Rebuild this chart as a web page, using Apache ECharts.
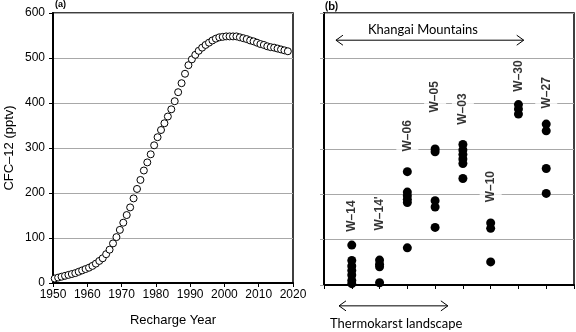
<!DOCTYPE html>
<html>
<head>
<meta charset="utf-8">
<script src="https://cdn.jsdelivr.net/npm/echarts@6/dist/echarts.min.js"></script>
<style>
html, body { margin: 0; padding: 0; background: #fff; }
#chart { width: 576px; height: 332px; }
</style>
</head>
<body>
<div id="chart"></div>
<script>
// (a) CFC-12 in air by recharge year
var years = [1950, 1951, 1952, 1953, 1954, 1955, 1956, 1957, 1958, 1959,
  1960, 1961, 1962, 1963, 1964, 1965, 1966, 1967, 1968, 1969,
  1970, 1971, 1972, 1973, 1974, 1975, 1976, 1977, 1978, 1979,
  1980, 1981, 1982, 1983, 1984, 1985, 1986, 1987, 1988, 1989,
  1990, 1991, 1992, 1993, 1994, 1995, 1996, 1997, 1998, 1999,
  2000, 2001, 2002, 2003, 2004, 2005, 2006, 2007, 2008, 2009,
  2010, 2011, 2012, 2013, 2014, 2015, 2016, 2017, 2018]
var cfcAir = [10, 12, 14, 16, 18, 20, 22, 25, 28, 31,
  34, 38, 43, 49, 55, 64, 74, 88, 102, 118,
  134, 151, 168, 188, 209, 229, 250, 268, 286, 306,
  324, 340, 355, 370, 386, 404, 424, 444, 465, 484,
  497, 507, 516, 523, 529, 534, 539, 543, 546, 547,
  548, 548, 548, 548, 546, 544, 542, 539, 537, 534,
  531, 529, 526, 524, 523, 521, 519, 517, 515]
var yTicks = [0, 100, 200, 300, 400, 500, 600]

// (b) CFC-12 in groundwater, per well
var wells = ['W\u201314', 'W\u201314\'', 'W\u201306', 'W\u201305', 'W\u201303', 'W\u201310', 'W\u201330', 'W\u201327']
var wellCfc = [
  [88, 54, 42, 32, 22, 10, 3],
  [55, 46, 40, 5],
  [250, 205, 197, 189, 182, 82],
  [300, 294, 186, 172, 127],
  [310, 298, 288, 278, 268, 235],
  [137, 125, 51],
  [398, 388, 377],
  [355, 340, 257, 202]
]
var wellLabelY = [152, 158, 329, 415, 388, 217, 461, 424]

var chart = echarts.init(document.getElementById('chart'))

var airData = years.map(function (y, i) { return [y + 0.5, cfcAir[i]] })
var wellData = []
wellCfc.forEach(function (vals, i) {
  vals.forEach(function (v) { wellData.push([i + 1, v]) })
})
var labelData = wells.map(function (w, i) {
  return { name: w, value: [i + 1, wellLabelY[i]] }
})

var font = 'Liberation Sans, Arial, sans-serif'
var gridColor = '#a8a8a8'

var option = {
  animation: false,
  textStyle: { fontFamily: font, color: '#000' },
  grid: [
    { left: 53, top: 13, width: 240, height: 272, show: true, borderColor: '#000', borderWidth: 1.5 },
    { left: 324, top: 13, width: 250, height: 272, show: true, borderColor: '#000', borderWidth: 1.5 }
  ],
  xAxis: [
    {
      gridIndex: 0, type: 'value', min: 1950, max: 2020, interval: 10,
      axisLine: { lineStyle: { color: '#000', width: 2 } },
      axisTick: { length: 4, lineStyle: { color: '#000' } },
      axisLabel: { fontSize: 12, color: '#000', margin: 6, formatter: function (v) { return String(v) } },
      splitLine: { show: false },
      name: 'Recharge Year', nameLocation: 'middle', nameGap: 31,
      nameTextStyle: { fontSize: 13, color: '#000' }
    },
    {
      gridIndex: 1, type: 'value', min: 0, max: 9, interval: 1,
      axisLine: { lineStyle: { color: '#000', width: 2 } },
      axisTick: { length: 4, lineStyle: { color: '#000' } },
      axisLabel: { show: false },
      splitLine: { show: false }
    }
  ],
  yAxis: [
    {
      gridIndex: 0, type: 'value', min: yTicks[0], max: yTicks[yTicks.length - 1], interval: 100,
      axisLine: { show: true, lineStyle: { color: '#000', width: 2 } },
      axisTick: { show: true, length: 4, lineStyle: { color: '#000' } },
      axisLabel: { fontSize: 12, color: '#000', margin: 8 },
      splitLine: { lineStyle: { color: gridColor, width: 1 } },
      name: 'CFC\u201312 (pptv)', nameLocation: 'middle', nameGap: 37,
      nameTextStyle: { fontSize: 13, color: '#000' }
    },
    {
      gridIndex: 1, type: 'value', min: yTicks[0], max: yTicks[yTicks.length - 1], interval: 100,
      axisLine: { show: true, lineStyle: { color: '#000', width: 2 } },
      axisTick: { show: true, length: 4, lineStyle: { color: gridColor } },
      axisLabel: { show: false },
      splitLine: { lineStyle: { color: gridColor, width: 1 } }
    }
  ],
  series: [
    {
      type: 'scatter', xAxisIndex: 0, yAxisIndex: 0,
      symbolSize: 7,
      itemStyle: { color: '#fff', borderColor: '#000', borderWidth: 1, opacity: 1 },
      data: airData
    },
    {
      // well names, white box breaks the grid line
      type: 'scatter', xAxisIndex: 1, yAxisIndex: 1, silent: true,
      symbolSize: 1, z: 3,
      itemStyle: { color: 'rgba(0,0,0,0)' },
      label: {
        show: true, position: 'inside', rotate: 90, formatter: '{b}',
        fontSize: 12, fontWeight: 'bold', color: '#000', backgroundColor: '#fff', padding: [5, 1]
      },
      data: labelData
    },
    {
      type: 'scatter', xAxisIndex: 1, yAxisIndex: 1, z: 4,
      symbolSize: 9,
      itemStyle: { color: '#000', opacity: 1 },
      data: wellData
    }
  ]
}
chart.setOption(option)

// annotations: panel tags and the two range arrows
function px(x, y) { return chart.convertToPixel({ gridIndex: 1 }, [x, y]) }
function arrow(x1, x2, y) {
  var a = px(x1, y), b = px(x2, y)
  var s = { stroke: '#000', lineWidth: 1, fill: null }
  return [
    { type: 'line', shape: { x1: a[0], y1: a[1], x2: b[0], y2: b[1] }, style: s },
    { type: 'polyline', shape: { points: [[a[0] + 7, a[1] - 5], [a[0], a[1]], [a[0] + 7, a[1] + 5]] }, style: s },
    { type: 'polyline', shape: { points: [[b[0] - 7, b[1] - 5], [b[0], b[1]], [b[0] - 7, b[1] + 5]] }, style: s }
  ]
}
var k = px(3.56, 563)
var t = px(2.6, -86)
var graphics = [
  { type: 'text', left: 55, top: 0, style: { text: '(a)', font: 'bold 9px ' + font, fill: '#000' } },
  { type: 'text', left: 325, top: 0, style: { text: '(b)', font: 'bold 12px Lato, sans-serif', fill: '#000' } },
  { type: 'text', x: k[0], y: k[1], style: { text: 'Khangai Mountains', font: '13px Lato, sans-serif', fill: '#000', align: 'center', verticalAlign: 'middle' } },
  { type: 'text', x: t[0], y: t[1], style: { text: 'Thermokarst landscape', font: '13px Lato, sans-serif', fill: '#000', align: 'center', verticalAlign: 'middle' } }
]
graphics = graphics.concat(arrow(0.43, 7.19, 540), arrow(0.54, 4.46, -46))
chart.setOption({ graphic: graphics })
</script>
</body>
</html>
